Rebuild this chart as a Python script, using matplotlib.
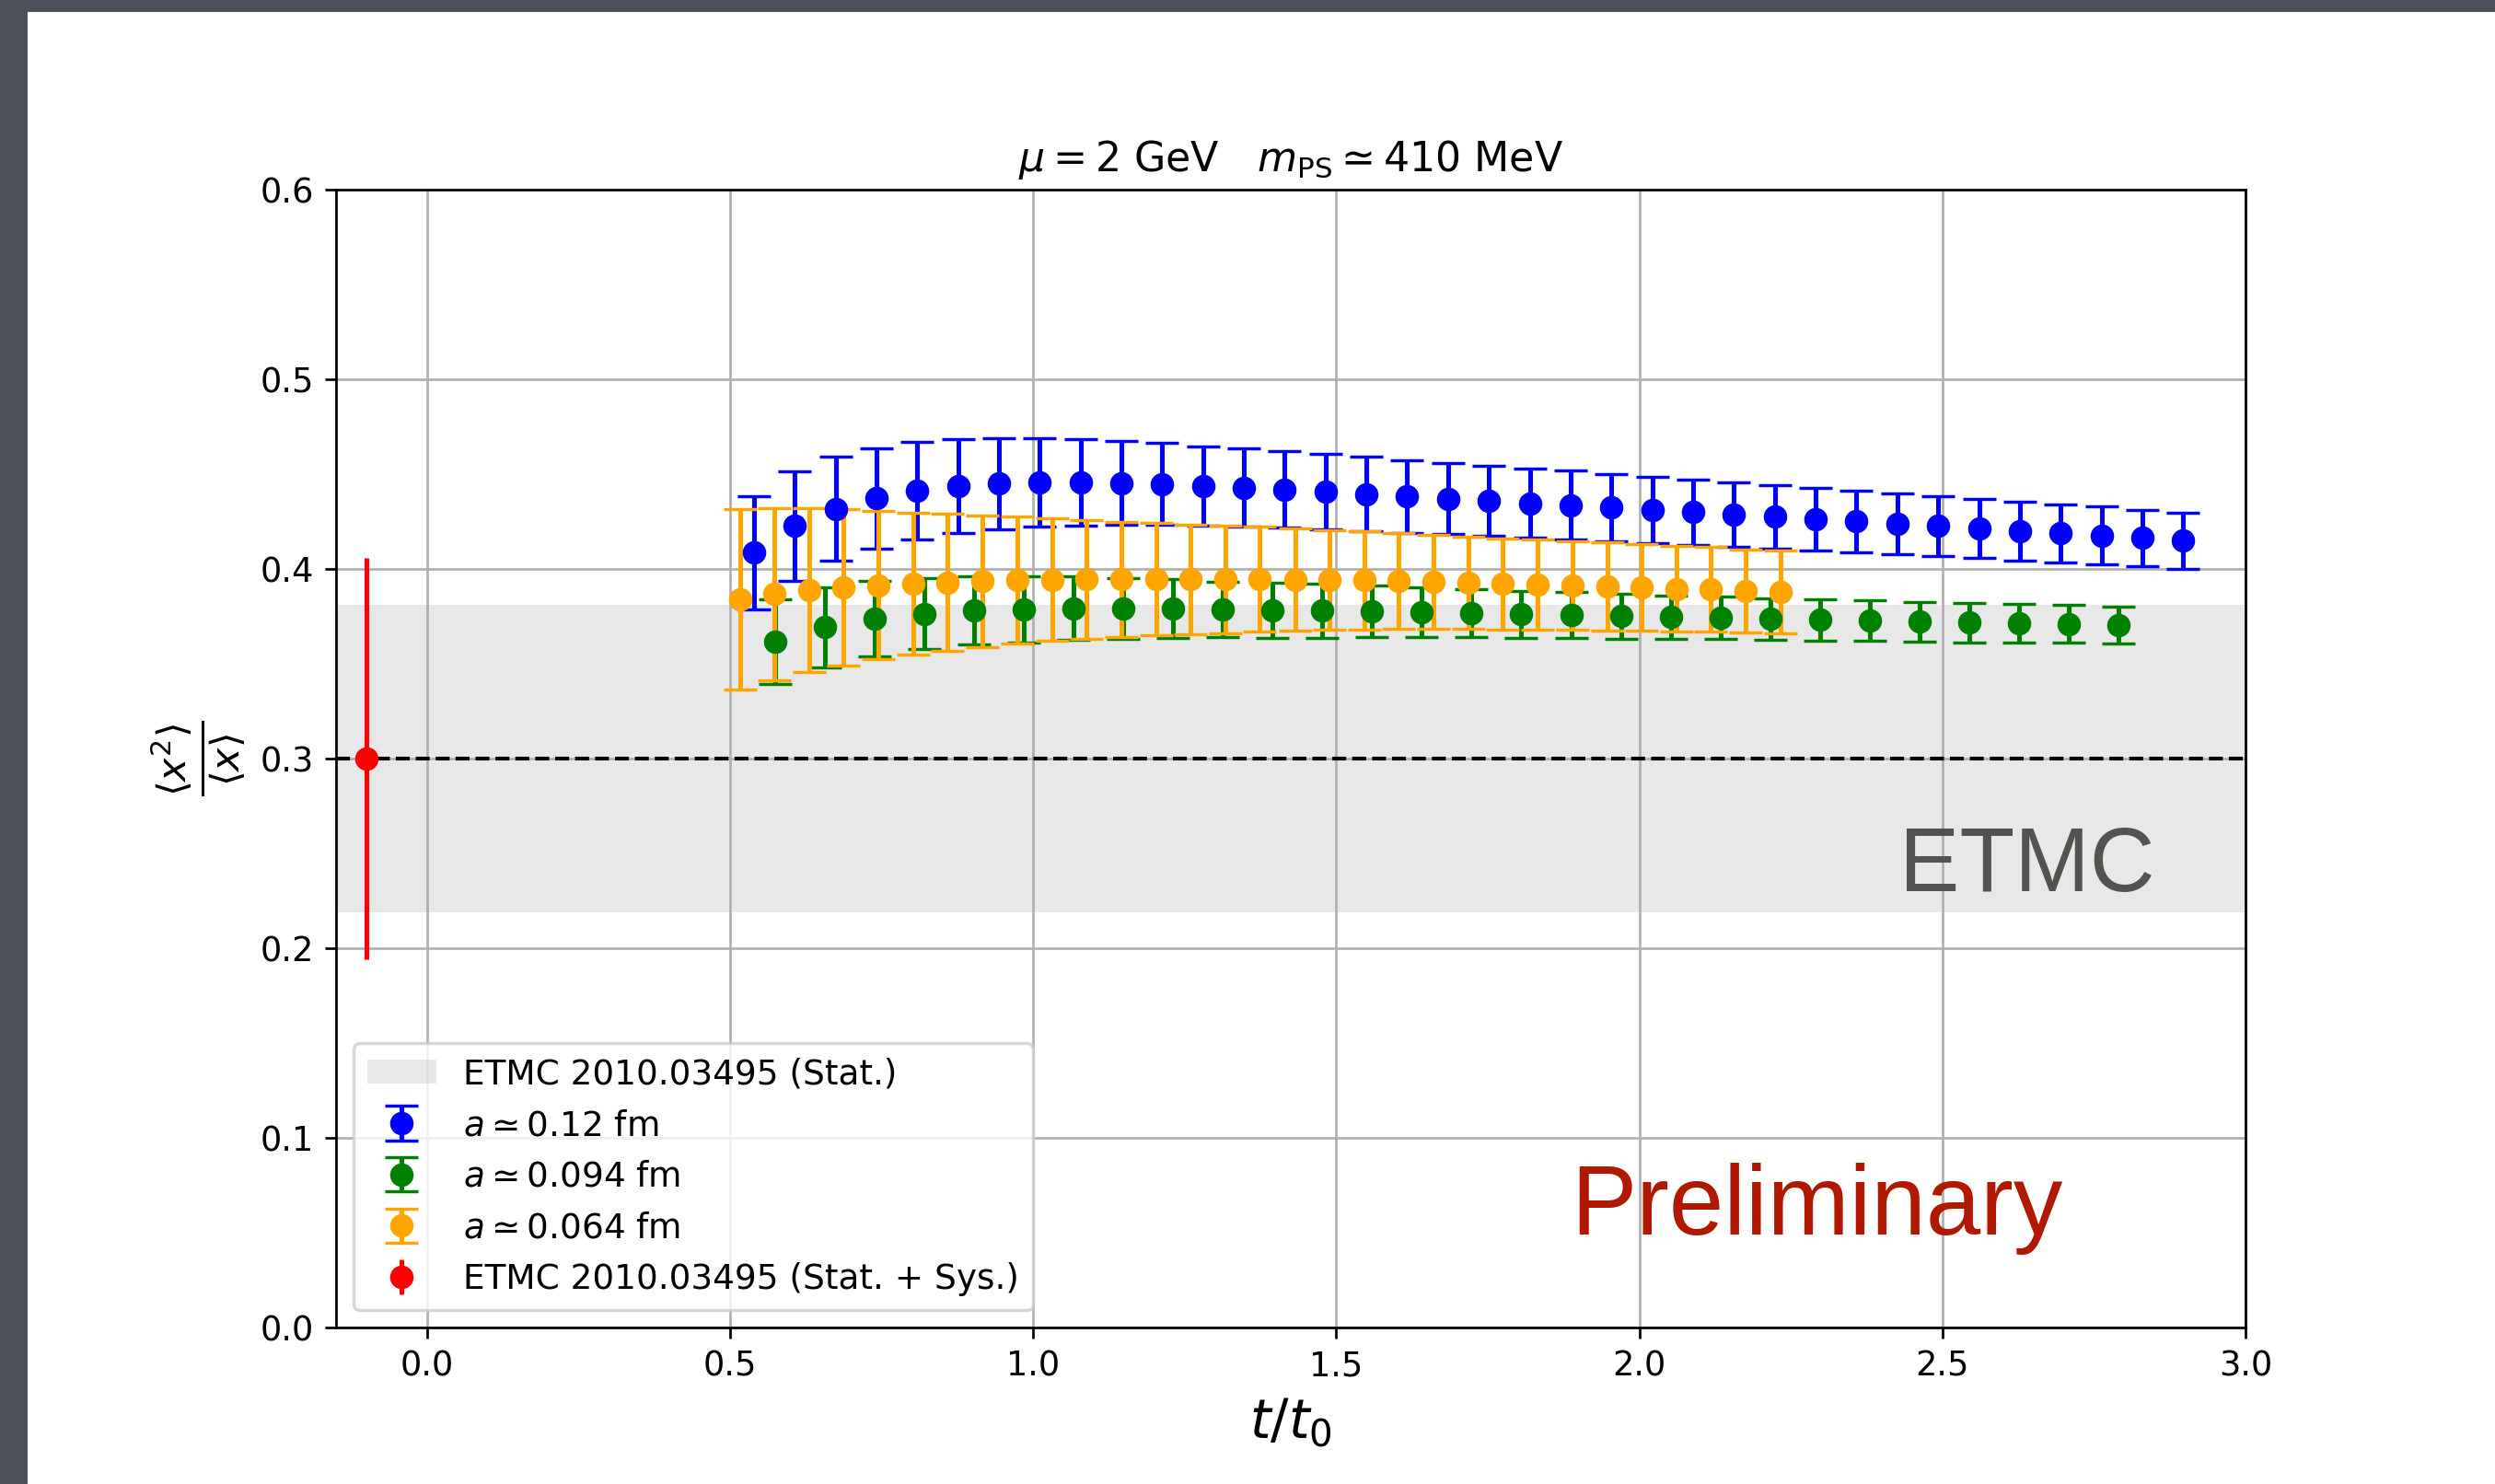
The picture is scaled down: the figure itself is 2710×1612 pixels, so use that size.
import matplotlib
matplotlib.use("Agg")
import matplotlib.pyplot as plt
from matplotlib.patches import Rectangle, Patch

# a ~ 0.12 fm
t_blue = [0.540, 0.607, 0.674, 0.742, 0.809, 0.876, 0.944, 1.011, 1.078, 1.146,
          1.213, 1.281, 1.348, 1.415, 1.483, 1.550, 1.617, 1.685, 1.752, 1.820,
          1.887, 1.954, 2.022, 2.089, 2.156, 2.224, 2.291, 2.358, 2.426, 2.493,
          2.561, 2.628, 2.695, 2.763, 2.830, 2.897]
y_blue = [0.4085, 0.4226, 0.4317, 0.4373, 0.4414, 0.4438, 0.4451, 0.4456, 0.4456, 0.4453,
          0.4448, 0.4438, 0.4428, 0.4418, 0.4407, 0.4395, 0.4383, 0.4371, 0.4359, 0.4347,
          0.4335, 0.4323, 0.4311, 0.4299, 0.4287, 0.4275, 0.4263, 0.4250, 0.4238, 0.4226,
          0.4214, 0.4201, 0.4189, 0.4176, 0.4163, 0.4150]
e_blue = [0.0297, 0.0287, 0.0275, 0.0265, 0.0257, 0.0248, 0.0240, 0.0234, 0.0227, 0.0222,
          0.0215, 0.0210, 0.0206, 0.0201, 0.0198, 0.0195, 0.0192, 0.0188, 0.0186, 0.0184,
          0.0182, 0.0179, 0.0176, 0.0172, 0.0169, 0.0167, 0.0164, 0.0162, 0.0160, 0.0158,
          0.0156, 0.0155, 0.0153, 0.0152, 0.0150, 0.0148]

# a ~ 0.094 fm
t_green = [0.575, 0.657, 0.739, 0.821, 0.903, 0.985, 1.067, 1.149, 1.231, 1.313,
           1.395, 1.477, 1.559, 1.641, 1.723, 1.805, 1.888, 1.970, 2.052, 2.134,
           2.216, 2.298, 2.380, 2.462, 2.544, 2.626, 2.708, 2.790]
y_green = [0.3617, 0.3693, 0.3738, 0.3764, 0.3780, 0.3788, 0.3793, 0.3793, 0.3790, 0.3786,
           0.3783, 0.3780, 0.3775, 0.3772, 0.3767, 0.3760, 0.3756, 0.3751, 0.3746, 0.3741,
           0.3736, 0.3731, 0.3727, 0.3722, 0.3717, 0.3714, 0.3710, 0.3706]
e_green = [0.0223, 0.0210, 0.0199, 0.0188, 0.0180, 0.0174, 0.0168, 0.0160, 0.0155, 0.0147,
           0.0146, 0.0142, 0.0136, 0.0130, 0.0126, 0.0124, 0.0121, 0.0120, 0.0114, 0.0112,
           0.0110, 0.0108, 0.0106, 0.0105, 0.0103, 0.0101, 0.0100, 0.0097]

# a ~ 0.064 fm
t_orange = [0.516, 0.573, 0.630, 0.687, 0.745, 0.802, 0.859, 0.916, 0.974, 1.031,
            1.088, 1.145, 1.203, 1.260, 1.317, 1.374, 1.432, 1.489, 1.546, 1.603,
            1.660, 1.718, 1.775, 1.832, 1.889, 1.947, 2.004, 2.061, 2.118, 2.176, 2.233]
y_orange = [0.3840, 0.3867, 0.3888, 0.3903, 0.3914, 0.3922, 0.3929, 0.3935, 0.3940, 0.3943,
            0.3945, 0.3946, 0.3946, 0.3945, 0.3945, 0.3945, 0.3943, 0.3941, 0.3940, 0.3937,
            0.3932, 0.3927, 0.3922, 0.3917, 0.3912, 0.3907, 0.3903, 0.3895, 0.3892, 0.3883, 0.3877]
e_orange = [0.0474, 0.0452, 0.0431, 0.0412, 0.0392, 0.0375, 0.0361, 0.0347, 0.0335, 0.0323,
            0.0313, 0.0303, 0.0295, 0.0289, 0.0283, 0.0277, 0.0270, 0.0263, 0.0258, 0.0253,
            0.0248, 0.0244, 0.0240, 0.0237, 0.0234, 0.0232, 0.0230, 0.0224, 0.0223, 0.0220, 0.0218]

# ETMC reference
etmc_t = -0.1
etmc_val = 0.30
etmc_err = 0.106
band_low = 0.219
band_high = 0.381

W, H, DPI = 2710, 1612, 245
fig = plt.figure(figsize=(W / DPI, H / DPI), dpi=DPI, facecolor="#4b505a")
# white slide area
fig.patches.append(Rectangle((30 / W, 0), 1 - 30 / W, 1 - 13 / H, transform=fig.transFigure,
                             facecolor="white", edgecolor="none", zorder=-10))

ax = fig.add_axes([365 / W, 1 - 1442 / H, (2439 - 365) / W, (1442 - 206) / H])

band = ax.axhspan(band_low, band_high, color="lightgray", alpha=0.5, lw=0)
ax.axhline(etmc_val, color="black", ls="--", lw=1.2)

kw = dict(fmt="o", ms=6.5, capsize=5.4)
hb = ax.errorbar(t_blue, y_blue, yerr=e_blue, color="blue", **kw)
hg = ax.errorbar(t_green, y_green, yerr=e_green, color="green", **kw)
ho = ax.errorbar(t_orange, y_orange, yerr=e_orange, color="orange", **kw)
hr = ax.errorbar([etmc_t], [etmc_val], yerr=[etmc_err], fmt="o", ms=6.5, color="red")

ax.set_xlim(-0.15, 3.0)
ax.set_ylim(0.0, 0.6)
ax.set_xticks([0.0, 0.5, 1.0, 1.5, 2.0, 2.5, 3.0])
ax.set_yticks([0.0, 0.1, 0.2, 0.3, 0.4, 0.5, 0.6])
ax.tick_params(labelsize=10.8)
ax.grid()

ax.set_title(r"$\mu = 2$ GeV   $m_{\rm PS} \simeq 410$ MeV", fontsize=13)
ax.set_xlabel(r"$t/t_0$", fontsize=17)
ax.set_ylabel(r"$\frac{\langle x^2 \rangle}{\langle x \rangle}$", fontsize=18)

band_handle = Patch(color="lightgray", alpha=0.5, lw=0)
ax.legend([band_handle, hb, hg, ho, hr],
          ["ETMC 2010.03495 (Stat.)", r"$a \simeq 0.12$ fm", r"$a \simeq 0.094$ fm",
           r"$a \simeq 0.064$ fm", "ETMC 2010.03495 (Stat. + Sys.)"],
          loc="lower left", fontsize=11)

# slide overlays
fig.text(2202 / W, 1 - 968 / H, "ETMC", fontsize=28.8, color="#53534f",
         family="Liberation Sans", ha="center", va="baseline")
fig.text(1973 / W, 1 - 1341 / H, "Preliminary", fontsize=31.4, color="#b01800",
         family="Liberation Sans", ha="center", va="baseline")

fig.savefig("out.png", dpi=DPI, facecolor=fig.get_facecolor())
